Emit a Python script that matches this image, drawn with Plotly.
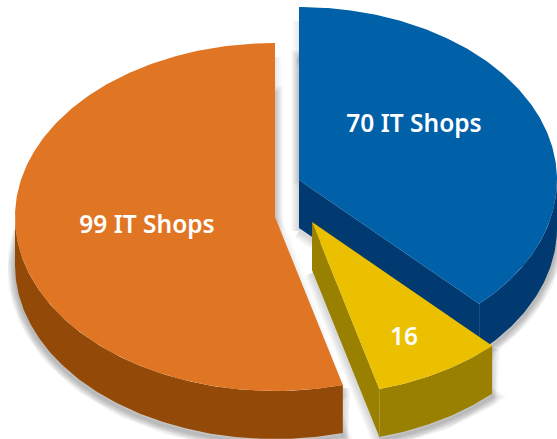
import numpy as np
import plotly.graph_objects as go

# Slices, clockwise from 12 o'clock (shares as measured on the picture)
labels = ["70 IT Shops", "16", "99 IT Shops"]
shares = [37.7, 8.1, 54.2]
top_colors = ["#0060A8", "#EBC000", "#E07523"]
wall_colors = ["#003A70", "#998000", "#934A08"]

# Pixel-space layout of each exploded slice
centers = [(299, 180), (312, 222), (275, 217)]
radii = [(258, 173), (258, 173), (260, 174)]
label_pos = [(414, 126), (404, 339), (147, 227)]
DEPTH = 48
W, H = 557, 439

edges = np.cumsum([0] + shares) / sum(shares) * 2 * np.pi


def point(c, r, a):
    return c[0] + r[0] * np.sin(a), c[1] - r[1] * np.cos(a)


def arc(c, r, a0, a1, dy=0):
    t = np.linspace(a0, a1, max(int(abs(a1 - a0) * 80), 2))
    return c[0] + r[0] * np.sin(t), c[1] + dy - r[1] * np.cos(t)


def wedge(c, r, a0, a1, dy=0):
    x, y = arc(c, r, a0, a1, dy)
    return np.r_[c[0], x, c[0]], np.r_[c[1] + dy, y, c[1] + dy]


def outer_wall(c, r, a0, a1):
    a0, a1 = max(a0, np.pi / 2), min(a1, 3 * np.pi / 2)
    x, y = arc(c, r, a0, a1)
    xb, yb = arc(c, r, a1, a0, DEPTH)
    return np.r_[x, xb, x[0]], np.r_[y, yb, y[0]]


def cut_wall(c, p):
    return ([c[0], p[0], p[0], c[0], c[0]],
            [c[1], p[1], p[1] + DEPTH, c[1] + DEPTH, c[1]])


def poly(x, y, color):
    return go.Scatter(x=x, y=y, mode="lines", fill="toself", fillcolor=color,
                      line=dict(width=0, color=color), hoverinfo="skip", showlegend=False)


def stroke(x, y, w, color):
    return go.Scatter(x=x, y=y, mode="lines", line=dict(width=w, color=color),
                      hoverinfo="skip", showlegend=False)


fig = go.Figure()
for i in [2, 0, 1]:
    c, r, a0, a1 = centers[i], radii[i], edges[i], edges[i + 1]
    tx, ty = wedge(c, r, a0, a1)
    bx, by = wedge(c, r, a0, a1, DEPTH)
    wx, wy = outer_wall(c, r, a0, a1)
    pt0, pt1 = point(c, r, a0), point(c, r, a1)
    start = point(c, r, max(a0, np.pi / 2))
    # soft shadow under the slice and beside its cut edges
    sx = np.r_[start[0], bx[1:-1], np.nan, bx]
    sy = np.r_[start[1], by[1:-1], np.nan, by] + 3
    for w in range(16, 0, -2):
        fig.add_trace(stroke(sx, sy, w, "rgba(100,100,105,0.032)"))
    ex = [pt0[0], c[0], pt1[0]]
    ey = [pt0[1] + 14, c[1], pt1[1] + 14]
    for w in range(14, 0, -2):
        fig.add_trace(stroke(ex, ey, w, "rgba(100,100,105,0.02)"))
    # side walls
    fig.add_trace(poly(wx, wy, wall_colors[i]))
    if i in (0, 1):   # trailing cut faces the viewer
        fig.add_trace(poly(*cut_wall(c, pt1), wall_colors[i]))
    # top face
    fig.add_trace(poly(tx, ty, top_colors[i]))

fig.add_trace(go.Scatter(
    x=[p[0] for p in label_pos], y=[p[1] for p in label_pos],
    text=labels, mode="text", textposition="middle center",
    textfont=dict(family="Noto Sans", size=24.5, color="white", weight=600),
    hoverinfo="skip", showlegend=False))

fig.update_layout(
    width=W, height=H, margin=dict(l=0, r=0, t=0, b=0),
    paper_bgcolor="white", plot_bgcolor="white", showlegend=False,
    xaxis=dict(range=[0, W], visible=False, fixedrange=True),
    yaxis=dict(range=[H, 0], visible=False, fixedrange=True),
)
fig.write_html("out.html", config=dict(displayModeBar=False),
               post_script="document.body.style.margin='0';document.body.style.overflow='hidden';")
